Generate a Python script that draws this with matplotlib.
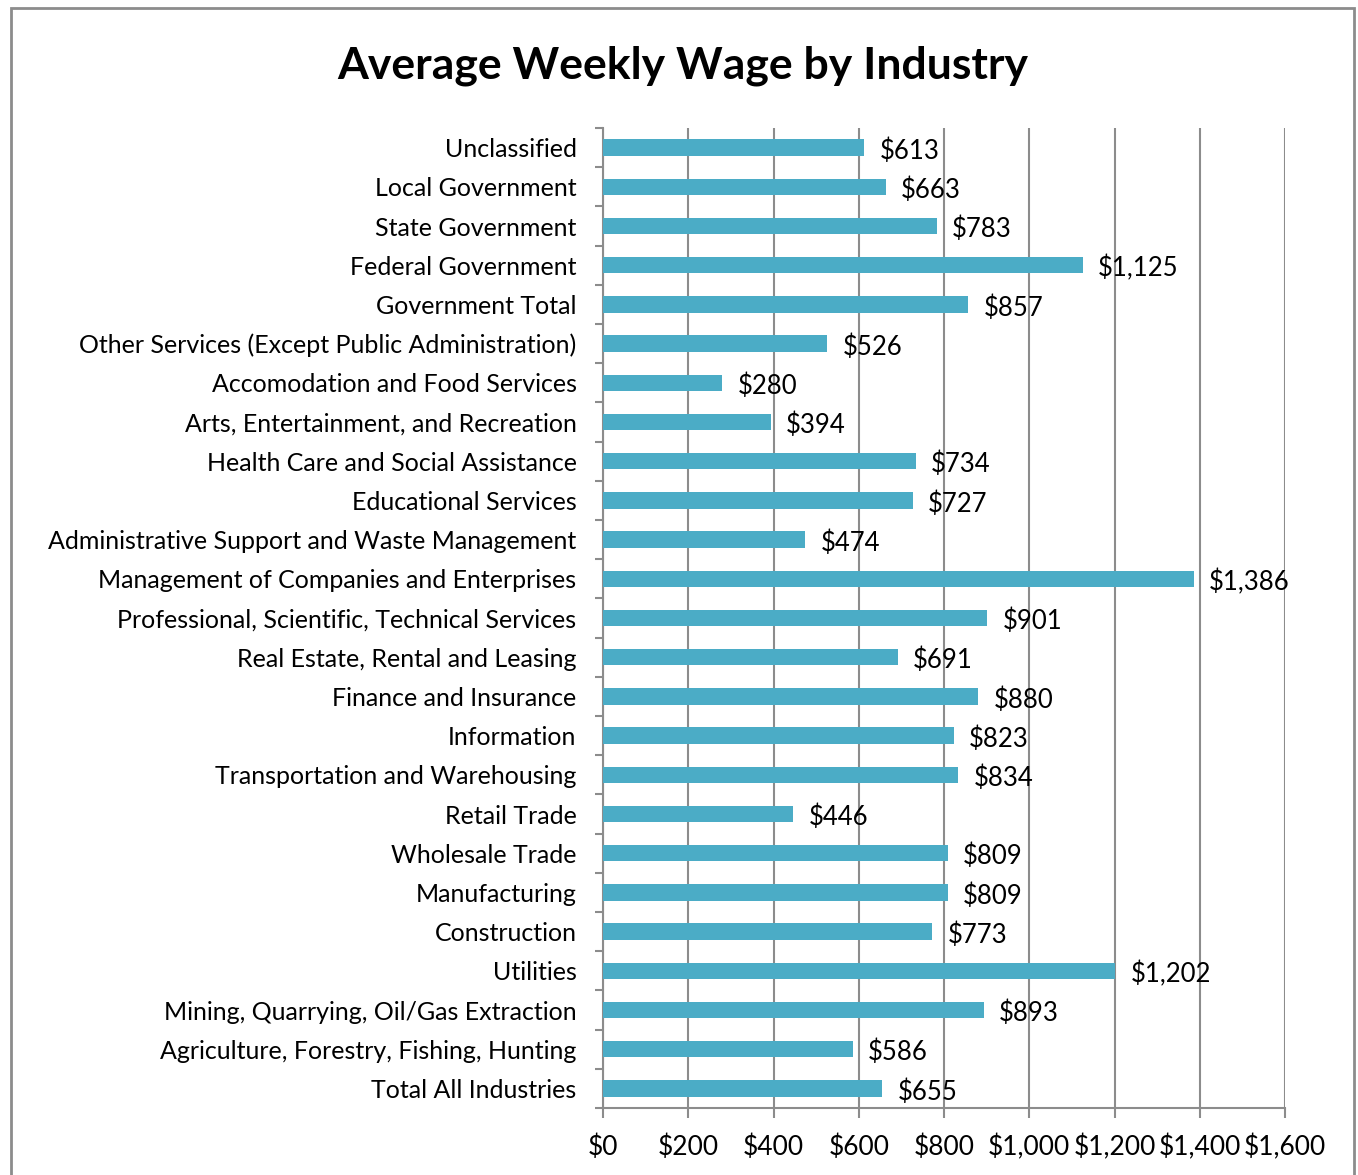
import matplotlib.pyplot as plt
from matplotlib.patches import Rectangle
from matplotlib.ticker import FuncFormatter, FixedLocator

industries = ["Unclassified", "Local Government", "State Government", "Federal Government",
              "Government Total", "Other Services (Except Public Administration)",
              "Accomodation and Food Services", "Arts, Entertainment, and Recreation",
              "Health Care and Social Assistance", "Educational Services",
              "Administrative Support and Waste Management",
              "Management of Companies and Enterprises",
              "Professional, Scientific, Technical Services",
              "Real Estate, Rental and Leasing", "Finance and Insurance", "Information",
              "Transportation and Warehousing", "Retail Trade", "Wholesale Trade",
              "Manufacturing", "Construction", "Utilities",
              "Mining, Quarrying, Oil/Gas Extraction",
              "Agriculture, Forestry, Fishing, Hunting", "Total All Industries"]
wages = [613, 663, 783, 1125, 857, 526, 280, 394, 734, 727, 474, 1386, 901, 691, 880,
         823, 834, 446, 809, 809, 773, 1202, 893, 586, 655]
xticks = [0, 200, 400, 600, 800, 1000, 1200, 1400, 1600]

plt.rcParams['font.family'] = ['Lato', 'DejaVu Sans']
grey = '#8c8c8c'
bar_col = '#4bacc6'

fig = plt.figure(figsize=(13.58, 11.75), dpi=100)
ax = fig.add_axes([603 / 1358, 1 - 1108 / 1175, 682 / 1358, 980 / 1175])

n = len(industries)
ypos = list(range(n))[::-1]
ax.barh(ypos, wages, height=0.42, color=bar_col, zorder=3)

for y, w in zip(ypos, wages):
    ax.annotate('${:,}'.format(w), (w, y), xytext=(11, -2.5), textcoords='offset points',
                va='center', ha='left', fontsize=18.5, zorder=4)

ax.set_xlim(0, 1600)
ax.set_ylim(-0.5, n - 0.5)
ax.xaxis.set_major_locator(FixedLocator(xticks))
ax.xaxis.set_major_formatter(FuncFormatter(lambda v, p: '${:,.0f}'.format(v)))
ax.grid(axis='x', color=grey, linewidth=1.5, zorder=0)

ax.set_yticks(ypos)
ax.set_yticklabels(industries, fontsize=18)
ax.set_yticks([i - 0.5 for i in range(n + 1)], minor=True)
ax.tick_params(axis='y', which='major', length=0, pad=19)
ax.tick_params(axis='y', which='minor', length=6, width=1.5, color=grey)
ax.tick_params(axis='x', length=7, width=1.5, color=grey, labelsize=19, pad=12)

for s in ['top', 'right']:
    ax.spines[s].set_visible(False)
for s in ['left', 'bottom']:
    ax.spines[s].set_color(grey)
    ax.spines[s].set_linewidth(1.5)

fig.text(683 / 1358, 1 - 66 / 1175, 'Average Weekly Wage by Industry', ha='center',
         va='center', fontsize=32, fontweight='bold')

fig.patches.append(Rectangle((11 / 1358, -0.01), 1343 / 1358, 1 - 8 / 1175 + 0.01,
                             transform=fig.transFigure, fill=False, edgecolor=grey,
                             linewidth=2))

fig.savefig('out.png', dpi=100)
